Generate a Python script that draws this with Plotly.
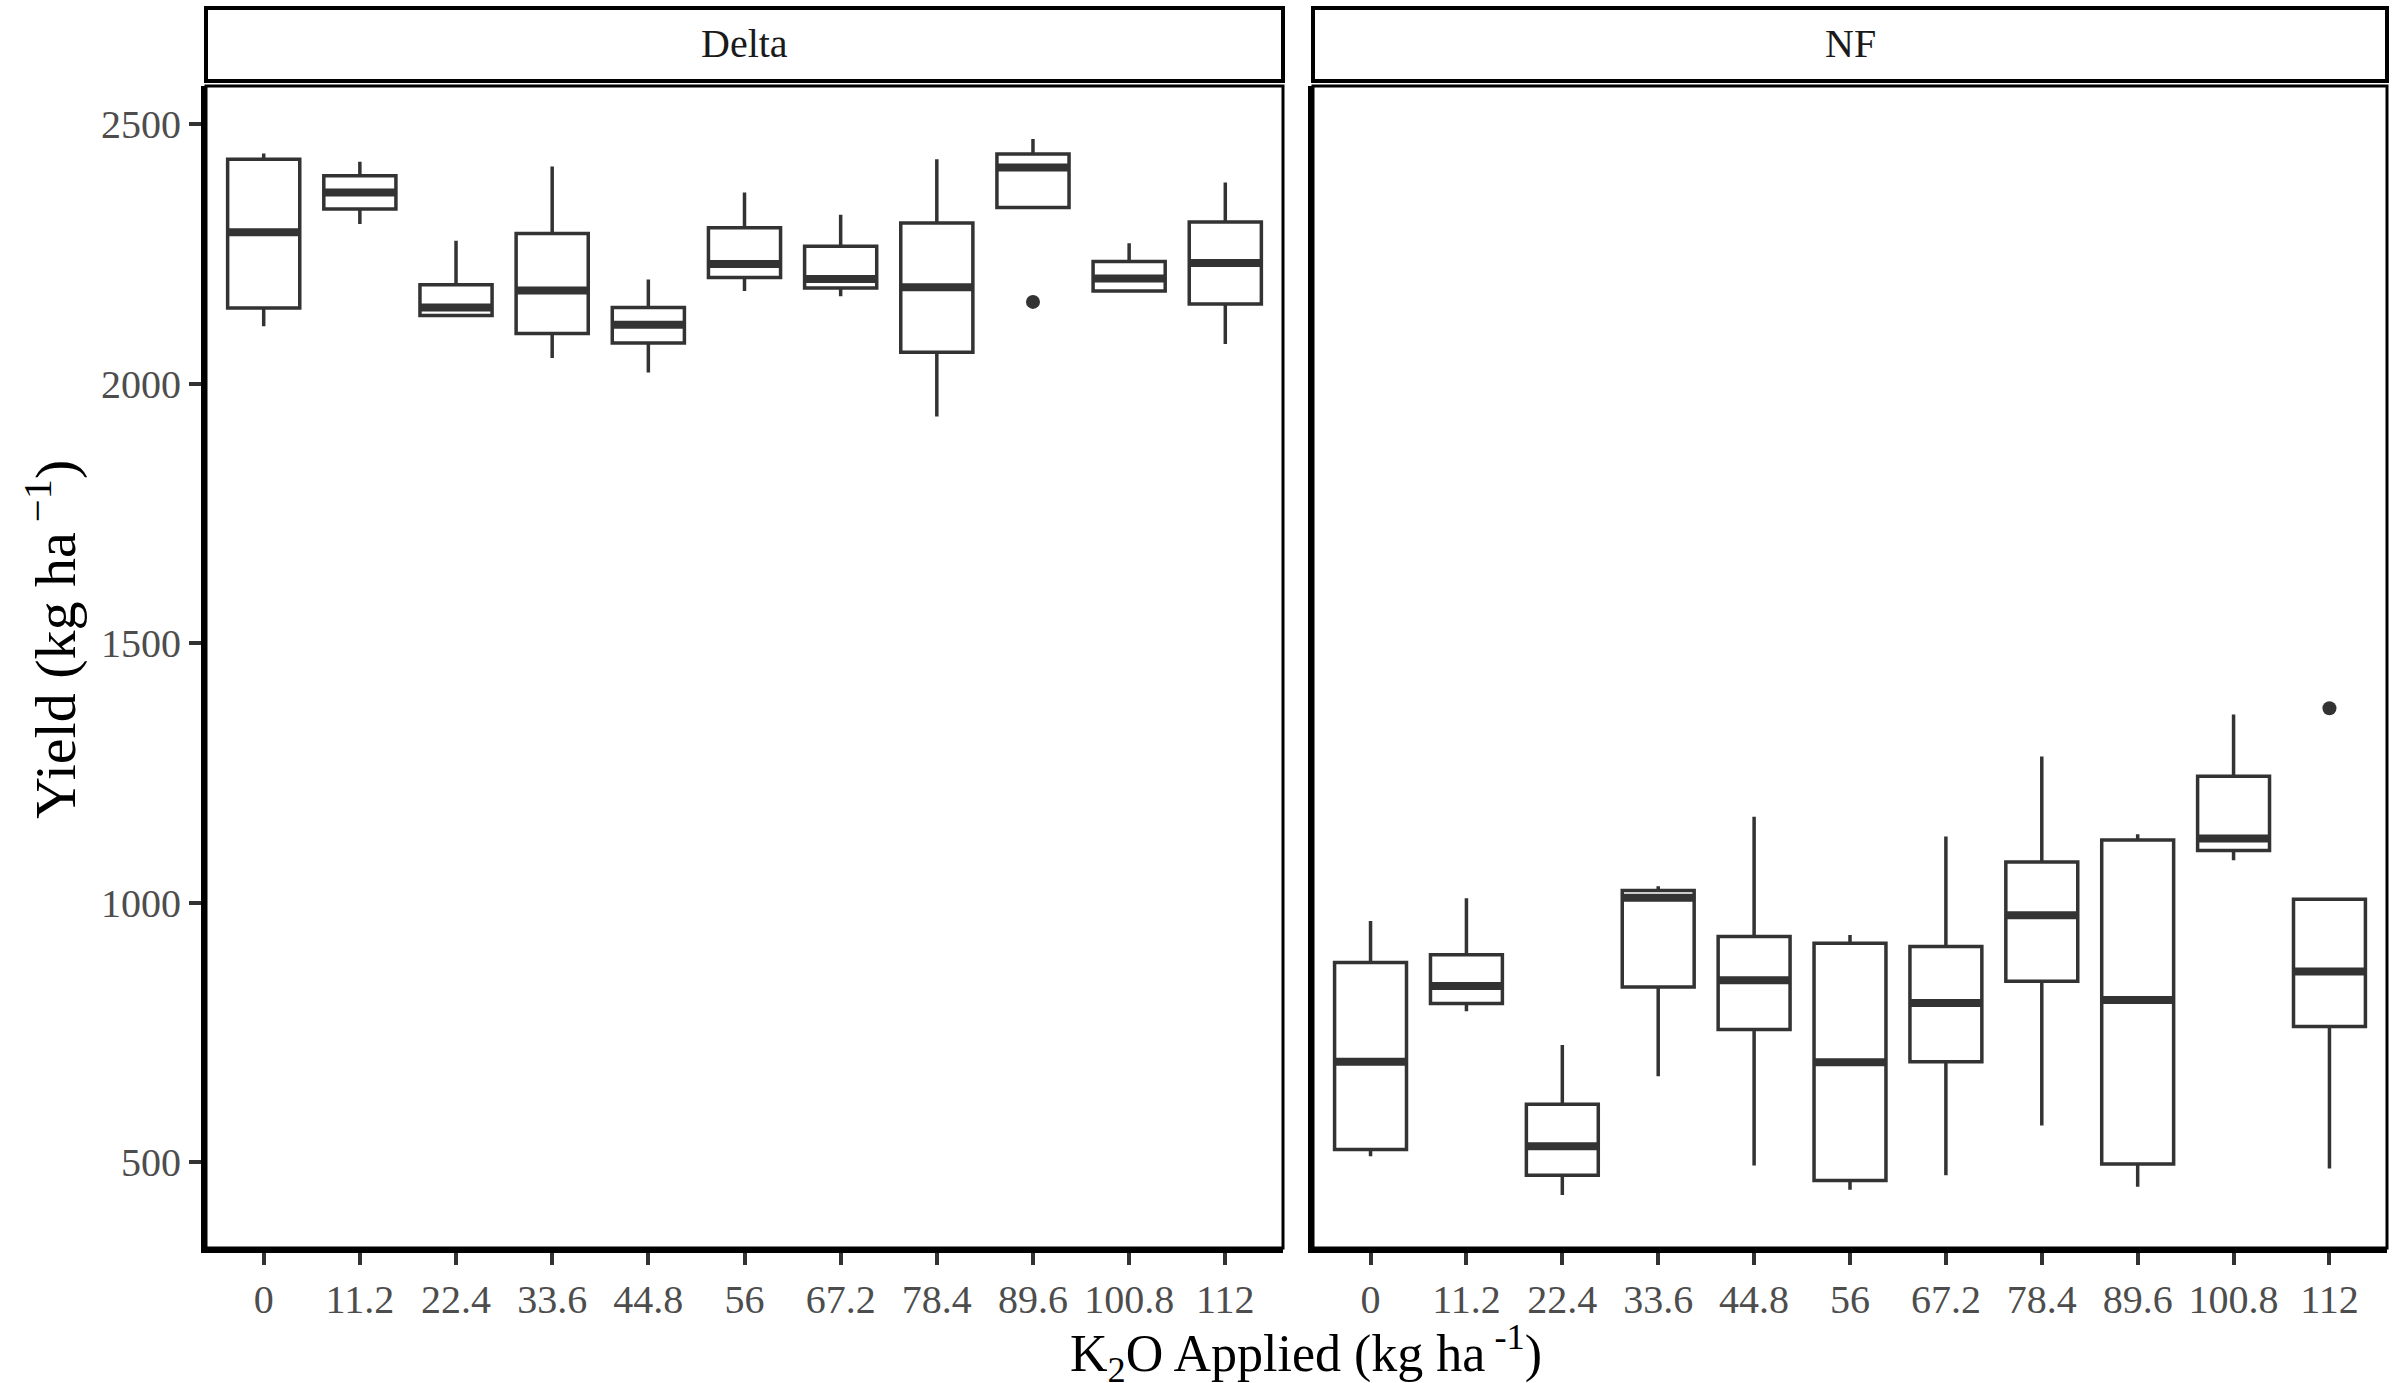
import plotly.graph_objects as go

# ---------------- data ----------------
categories = ["0", "11.2", "22.4", "33.6", "44.8", "56", "67.2", "78.4", "89.6", "100.8", "112"]

delta_lower = [2111, 2308, 2130, 2050, 2022, 2179, 2169, 1937, 2340, 2177, 2077]
delta_q1 = [2146, 2337, 2132, 2097, 2079, 2205, 2185, 2061, 2340, 2179, 2154]
delta_med = [2292, 2369, 2147, 2180, 2114, 2231, 2202, 2186, 2417, 2203, 2233]
delta_q3 = [2433, 2401, 2191, 2290, 2147, 2301, 2265, 2310, 2443, 2236, 2312]
delta_upper = [2444, 2428, 2276, 2419, 2201, 2369, 2326, 2433, 2472, 2271, 2388]
delta_out_cat = ["89.6"]
delta_out_val = [2158]

nf_lower = [512, 791, 437, 666, 494, 447, 475, 571, 453, 1082, 488]
nf_q1 = [525, 806, 475, 838, 756, 465, 694, 849, 497, 1101, 762]
nf_med = [694, 840, 531, 1010, 851, 693, 807, 976, 813, 1124, 868]
nf_q3 = [885, 900, 612, 1024, 935, 922, 916, 1079, 1121, 1244, 1007]
nf_upper = [965, 1009, 726, 1032, 1166, 938, 1128, 1282, 1132, 1363, 1007]
nf_out_cat = ["112"]
nf_out_val = [1375]

y_ticks = [500, 1000, 1500, 2000, 2500]
panel_names = ["Delta", "NF"]

# ---------------- styling constants ----------------
W, H = 2394, 1383
FONT = "Liberation Serif, Times New Roman, serif"
BOXCOL = "#333333"
BOX_W = 0.75


def px_x(p):
    return p / W


def px_y(p):
    return 1 - p / H


dom1 = [px_x(206), px_x(1283)]
dom2 = [px_x(1313), px_x(2387)]
ydom = [px_y(1248), px_y(86)]

idx = list(range(len(categories)))

fig = go.Figure()


def add_panel(lower, q1, med, q3, upper, out_cat, out_val, xa, ya):
    fig.add_trace(go.Box(
        x=idx, q1=q1, median=med, q3=q3, lowerfence=lower, upperfence=upper,
        boxpoints=False, fillcolor="white", width=BOX_W, whiskerwidth=0,
        line=dict(color=BOXCOL, width=3.5), xaxis=xa, yaxis=ya,
        showlegend=False, hoverinfo="skip"))
    mx, my = [], []
    for i, m in zip(idx, med):
        mx += [i - BOX_W / 2, i + BOX_W / 2, None]
        my += [m, m, None]
    fig.add_trace(go.Scatter(
        x=mx, y=my, mode="lines", line=dict(color=BOXCOL, width=8),
        xaxis=xa, yaxis=ya, showlegend=False, hoverinfo="skip"))
    fig.add_trace(go.Scatter(
        x=[categories.index(c) for c in out_cat], y=out_val, mode="markers",
        marker=dict(color=BOXCOL, size=14), xaxis=xa, yaxis=ya,
        showlegend=False, hoverinfo="skip"))


add_panel(delta_lower, delta_q1, delta_med, delta_q3, delta_upper,
          delta_out_cat, delta_out_val, "x", "y")
add_panel(nf_lower, nf_q1, nf_med, nf_q3, nf_upper,
          nf_out_cat, nf_out_val, "x2", "y2")

yrange = [335, 2574]
xrange = [-0.6, len(categories) - 1 + 0.6]

xcommon = dict(range=xrange, tickmode="array", tickvals=idx, ticktext=categories,
               ticks="outside", ticklen=12, tickwidth=4, tickcolor=BOXCOL,
               tickfont=dict(family=FONT, size=40, color="#4D4D4D"),
               showgrid=False, zeroline=False, showline=True, linewidth=5,
               linecolor="black", mirror=False, fixedrange=True)
ycommon = dict(range=yrange, domain=ydom, showgrid=False, zeroline=False,
               showline=True, linewidth=5, linecolor="black", fixedrange=True)

fig.update_layout(
    width=W, height=H, margin=dict(l=0, r=0, t=0, b=0),
    paper_bgcolor="white", plot_bgcolor="white",
    xaxis=dict(domain=dom1, anchor="y", **xcommon),
    xaxis2=dict(domain=dom2, anchor="y2", **xcommon),
    yaxis=dict(anchor="x", tickmode="array", tickvals=y_ticks,
               ticktext=[str(v) for v in y_ticks], ticks="outside", ticklen=12,
               tickwidth=4, tickcolor=BOXCOL,
               tickfont=dict(family=FONT, size=40, color="#4D4D4D"), **ycommon),
    yaxis2=dict(anchor="x2", showticklabels=False, ticks="", **ycommon),
)

shapes = []
annotations = []
for name, dom, xr, yr in [(panel_names[0], dom1, "x domain", "y domain"),
                          (panel_names[1], dom2, "x2 domain", "y2 domain")]:
    # panel border
    shapes.append(dict(type="rect", xref=xr, yref=yr, x0=0, x1=1, y0=0, y1=1,
                       line=dict(color="black", width=3), fillcolor="rgba(0,0,0,0)",
                       layer="above"))
    # strip
    shapes.append(dict(type="rect", xref="paper", yref="paper",
                       x0=dom[0], x1=dom[1], y0=px_y(81), y1=px_y(8),
                       line=dict(color="black", width=4), fillcolor="white"))
    annotations.append(dict(text=name, xref="paper", yref="paper",
                            x=(dom[0] + dom[1]) / 2, y=px_y(44), showarrow=False,
                            xanchor="center", yanchor="middle",
                            font=dict(family=FONT, size=40, color="#1A1A1A")))

annotations.append(dict(text="K<sub>2</sub>O Applied (kg ha<sup> -1</sup>)",
                        xref="paper", yref="paper", x=px_x(1306), y=px_y(1353),
                        showarrow=False, xanchor="center", yanchor="middle",
                        font=dict(family=FONT, size=52, color="black")))
annotations.append(dict(text="Yield (kg ha<sup> −1</sup>)",
                        xref="paper", yref="paper", x=px_x(52), y=px_y(640),
                        showarrow=False, xanchor="center", yanchor="middle",
                        textangle=-90,
                        font=dict(family=FONT, size=58, color="black")))

fig.update_layout(shapes=shapes, annotations=annotations)

fig.write_html("out.html")
